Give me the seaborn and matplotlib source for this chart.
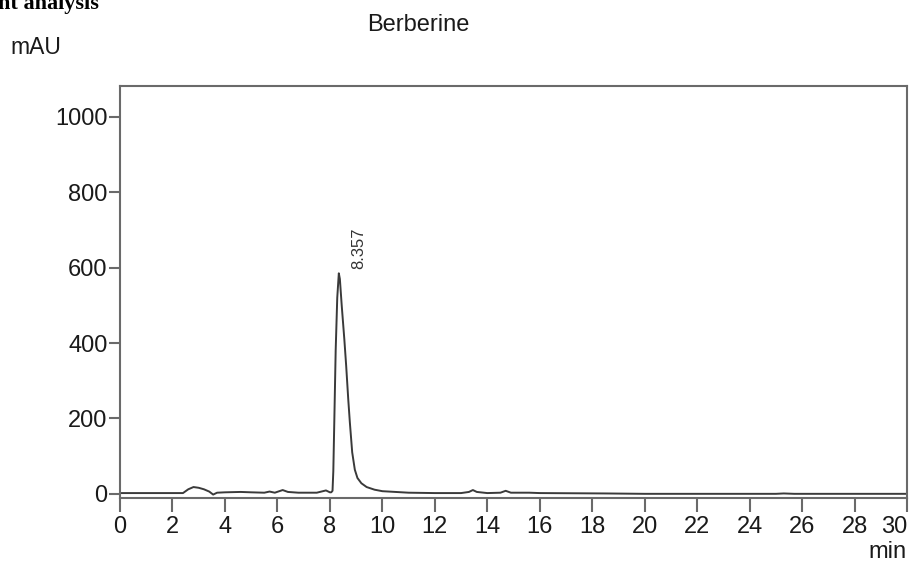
import matplotlib
matplotlib.use("Agg")
import matplotlib.pyplot as plt
import seaborn as sns
import pandas as pd

# Chromatogram (time in min, absorbance in mAU)
time_min = [0.0, 1.5, 2.4, 2.6, 2.8, 3.0, 3.2, 3.4, 3.55, 3.7, 4.0, 4.6, 5.0, 5.5,
            5.7, 5.9, 6.2, 6.4, 6.8, 7.5, 7.85, 8.0, 8.05, 8.1, 8.13, 8.17, 8.22,
            8.28, 8.34, 8.38, 8.45, 8.55, 8.62, 8.7, 8.76, 8.85, 8.95, 9.05, 9.2, 9.4,
            9.7, 10.0, 11.0, 12.0, 13.0, 13.3, 13.45, 13.6, 14.0, 14.5, 14.7, 14.9,
            15.6, 16.0, 18.5, 20.0, 25.0, 25.3, 25.7, 30.0]
mau = [2, 2, 2, 12, 18, 16, 12, 6, -2, 3, 4, 5, 4, 3,
       6, 3, 10, 5, 3, 3, 9, 4, 4, 8, 60, 200, 380,
       520, 585, 570, 500, 410, 340, 250, 190, 110, 64, 42, 28, 18,
       11, 7, 3, 2, 2, 5, 10, 5, 2, 3, 8, 3,
       3, 2, 1, 0, 0, 1, 0, 0]

peak_rt = 8.357
peak_label = "8.357"
title = "Berberine"
y_ticks = [0, 200, 400, 600, 800, 1000]
x_ticks = list(range(0, 31, 2))

df = pd.DataFrame({"time": time_min, "mAU": mau})

sns.set_style("white")
plt.rcParams["font.family"] = ["Liberation Sans", "DejaVu Sans"]

fig = plt.figure(figsize=(9.12, 5.63), dpi=100)
ax = fig.add_axes([0.1316, 0.1155, 0.863, 0.7318])

sns.lineplot(data=df, x="time", y="mAU", ax=ax, color="#3a3a3a", linewidth=1.4,
             estimator=None, sort=False)

ax.set_xlim(0, 30)
ax.set_ylim(-11, 1082)
ax.set_xticks(x_ticks)
ax.set_yticks(y_ticks)
ax.set_xlabel("")
ax.set_ylabel("")

for s in ax.spines.values():
    s.set_visible(True)
    s.set_color("#6a6a6a")
    s.set_linewidth(1.5)

ax.tick_params(axis="both", which="major", direction="out", width=1.5,
               color="#6a6a6a", labelsize=17, labelcolor="#1a1a1a")
ax.tick_params(axis="x", bottom=True, length=10, pad=3)
ax.tick_params(axis="y", left=True, length=8, pad=1)
xl = ax.get_xticklabels()
xl[-1].set_horizontalalignment("right")
xl[-1].set_x(30)

# peak annotation
ax.text(peak_rt + 0.45, 585 + 12, peak_label, rotation=90, fontsize=12,
        color="#333333", ha="left", va="bottom")

fig.text(418 / 912, 1 - 25 / 563, title, ha="center", va="center", fontsize=17,
         color="#1a1a1a")
fig.text(10 / 912, 1 - 47 / 563, "mAU", ha="left", va="center", fontsize=16.5,
         color="#1a1a1a")
fig.text(907 / 912, 1 - 552 / 563, "min", ha="right", va="center", fontsize=17,
         color="#1a1a1a")
fig.text(-2 / 912, 1 - 4 / 563, "nt analysis", ha="left", va="center", fontsize=16,
         fontweight="bold", family=["Liberation Serif", "DejaVu Serif"], color="black")

fig.savefig("out.png", dpi=100)
